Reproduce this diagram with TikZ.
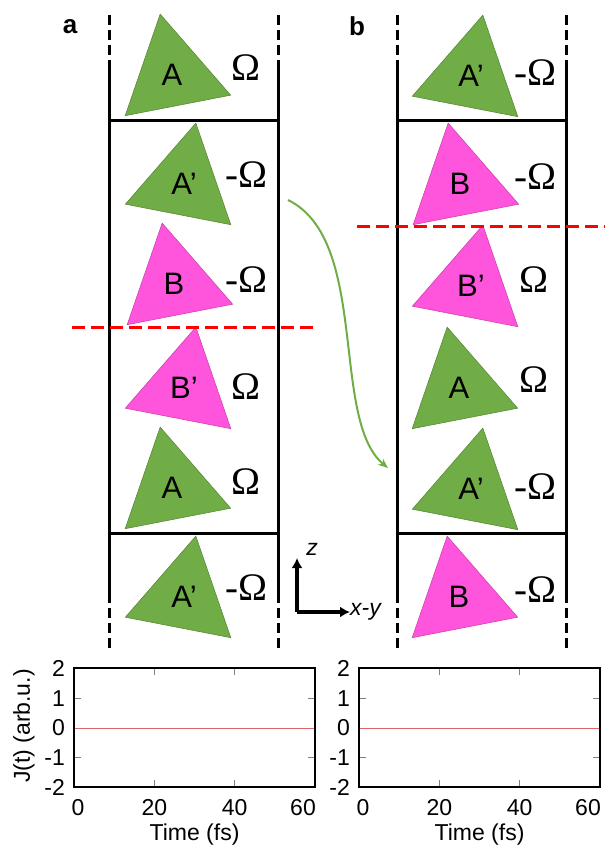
\documentclass[tikz,border=0pt]{standalone}
\usepackage{fontspec}
\setmainfont{Liberation Sans}
\newfontfamily\omegafont{Liberation Serif}
\usetikzlibrary{arrows.meta, shapes.geometric}
\definecolor{molgreen}{HTML}{70AD47}
\definecolor{molpink}{HTML}{FF55DD}
\definecolor{cutred}{HTML}{FF0000}
\definecolor{currentred}{HTML}{D9676B}

\begin{document}
\begin{tikzpicture}[
    x=1pt, y=-1pt,
    tri/.style={
        regular polygon, regular polygon sides=3,
        minimum size=124pt, inner sep=0pt,
        fill=#1, draw=#1!80!black, line width=0.6pt,
        font=\fontsize{31}{33}\selectfont
    },
    triA/.style={tri=#1, shape border rotate=11},
    triB/.style={tri=#1, shape border rotate=-11},
    omg/.style={font=\omegafont\fontsize{39}{42}\selectfont, inner sep=0pt},
    wall/.style={line width=3pt, black},
    wallcut/.style={wall, dash pattern=on 10pt off 5pt},
    cutline/.style={line width=3pt, cutred, dash pattern=on 13pt off 6pt},
    swaparrow/.style={-{Stealth[length=10pt,width=8pt]}, line width=2pt, molgreen},
    axarrow/.style={-{Latex[length=10pt,width=11pt]}, line width=3.4pt},
    panel/.style={font=\fontsize{26}{28}\selectfont\bfseries, inner sep=0pt},
    ticklab/.style={font=\fontsize{23}{25}\selectfont, inner sep=0pt},
    tickmark/.style={line width=1pt, gray}
]
\useasboundingbox (0,0) rectangle (605,850);

% Walls of the two cells
\foreach \wx in {109,278,397,566} {
    \draw[wallcut] (\wx,15) -- (\wx,70);
    \draw[wall] (\wx,70) -- (\wx,593);
    \draw[wallcut] (\wx,593) -- (\wx,648);
}
\draw[wall] (109,121) -- (278,121);
\draw[wall] (109,533) -- (278,533);
\draw[wall] (397,121) -- (566,121);
\draw[wall] (397,533) -- (566,533);

% Panel a
\node[panel] (pa) at (70,27) {a};
\node[triA=molgreen] (aA1) at (172,75) {A};
\node[triB=molgreen] (aA2) at (184,184) {A’};
\node[triA=molpink] (aB3) at (174,284) {B};
\node[triB=molpink] (aB4) at (184,388) {B’};
\node[triA=molgreen] (aA5) at (172,488) {A};
\node[triB=molgreen] (aA6) at (184,597) {A’};
\node[omg] (aw1) at (246,68) {Ω};
\node[omg] (aw2) at (246,175) {-Ω};
\node[omg] (aw3) at (246,280) {-Ω};
\node[omg] (aw4) at (246,387) {Ω};
\node[omg] (aw5) at (246,482) {Ω};
\node[omg] (aw6) at (246,588) {-Ω};

% Panel b
\node[panel] (pb) at (357,26) {b};
\node[triB=molgreen] (bA1) at (471,76) {A’};
\node[triA=molpink] (bB2) at (460,184) {B};
\node[triB=molpink] (bB3) at (471,286) {B’};
\node[triA=molgreen] (bA4) at (459,388) {A};
\node[triB=molgreen] (bA5) at (471,489) {A’};
\node[triA=molpink] (bB6) at (459,597) {B};
\node[omg] (bw1) at (535,73) {-Ω};
\node[omg] (bw2) at (535,177) {-Ω};
\node[omg] (bw3) at (534,280) {Ω};
\node[omg] (bw4) at (534,380) {Ω};
\node[omg] (bw5) at (535,487) {-Ω};
\node[omg] (bw6) at (535,590) {-Ω};

% Cut planes
\draw[cutline] (72,327) -- (318,327);
\draw[cutline] (357,226) -- (605,226);

% Swap arrow a -> b
\coordinate (swS) at (288,200);
\coordinate (swE) at (388,468);
\draw[swaparrow] (swS) .. controls (370,240) and (330,420) .. (swE);

% Axes
\coordinate (axo) at (297,612);
\coordinate (axz) at (297,558);
\coordinate (axx) at (350,612);
\draw[axarrow] (axo) -- (axz);
\draw[axarrow] (axo) -- (axx);
\node[ticklab, font=\fontsize{23}{25}\selectfont\itshape] (zlab) at (312,549) {z};
\node[ticklab, font=\fontsize{23}{25}\selectfont\itshape, anchor=west] (xylab) at (350,612) {x-y};

% Current plots
\foreach \px/\pn in {74/a, 359/b} {
    \draw[tickmark] \foreach \t in {20,40} {
        ({\px+\t*241/60},787) -- ++(0,-7) ({\px+\t*241/60},668) -- ++(0,7)};
    \draw[tickmark] \foreach \v in {-1,1} {
        (\px,{728-\v*29.75}) -- ++(7,0) ({\px+241},{728-\v*29.75}) -- ++(-7,0)};
    \draw[currentred, line width=1pt] (\px,728) -- ({\px+241},728);
    \draw[line width=1.6pt] (\px,668) rectangle ({\px+241},787);
    \node[ticklab] (xt\pn0) at ({\px+4},808) {0};
    \foreach \t in {20,40}
        \node[ticklab] (xt\pn\t) at ({\px+\t*241/60},808) {\t};
    \node[ticklab, anchor=east] (xt\pn60) at ({\px+242},808) {60};
    \foreach \v in {-2,...,2}
        \node[ticklab, anchor=east] (yt\pn\v) at ({\px-9},{728-\v*29.75}) {\v};
    \node[ticklab] (time\pn) at ({\px+120.5},835) {Time (fs)};
}
\node[ticklab, rotate=90] (jlab) at (24,726) {J(t) (arb.u.)};

\end{tikzpicture}
\end{document}
